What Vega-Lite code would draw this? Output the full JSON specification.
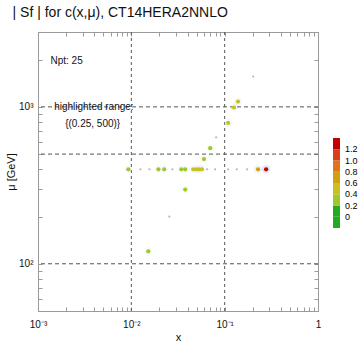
{
  "$schema": "https://vega.github.io/schema/vega-lite/v6.json",
  "width": 280,
  "height": 279,
  "autosize": {"type": "none"},
  "padding": {"left": 38, "top": 32, "right": 42, "bottom": 33},
  "background": "white",
  "title": {"text": "| Sf | for c(x,μ), CT14HERA2NNLO", "anchor": "start", "dx": 7, "offset": 7, "fontSize": 14, "font": "Liberation Sans", "fontWeight": "normal", "color": "#111111"},
  "config": {
    "view": {"stroke": "#9a9a9a", "strokeWidth": 1},
    "font": "Liberation Sans",
    "axis": {"grid": false, "domainColor": "#9a9a9a", "tickColor": "#9a9a9a", "tickSize": -4, "labelFontSize": 10, "labelColor": "#111111", "titleFontSize": 11, "titleFontWeight": "normal", "titleColor": "#111111", "labelFlush": false, "labelOverlap": false},
    "legend": {"gradientLength": 90, "gradientThickness": 7}
  },
  "datasets": {
    "pts": [
      {"x": 0.202, "mu": 1560, "s": 0.05},
      {"x": 0.139, "mu": 1080, "s": 0.5},
      {"x": 0.126, "mu": 990, "s": 0.5},
      {"x": 0.109, "mu": 790, "s": 0.45},
      {"x": 0.081, "mu": 640, "s": 0.05},
      {"x": 0.070, "mu": 545, "s": 0.35},
      {"x": 0.060, "mu": 465, "s": 0.35},
      {"x": 0.0093, "mu": 400, "s": 0.35},
      {"x": 0.0125, "mu": 400, "s": 0.05},
      {"x": 0.0156, "mu": 400, "s": 0.05},
      {"x": 0.0195, "mu": 400, "s": 0.3},
      {"x": 0.0225, "mu": 400, "s": 0.35},
      {"x": 0.0275, "mu": 400, "s": 0.05},
      {"x": 0.0343, "mu": 400, "s": 0.35},
      {"x": 0.0378, "mu": 400, "s": 0.3},
      {"x": 0.046, "mu": 400, "s": 0.4},
      {"x": 0.050, "mu": 400, "s": 0.4},
      {"x": 0.053, "mu": 400, "s": 0.4},
      {"x": 0.057, "mu": 400, "s": 0.4},
      {"x": 0.065, "mu": 400, "s": 0.05},
      {"x": 0.079, "mu": 400, "s": 0.05},
      {"x": 0.109, "mu": 400, "s": 0.05},
      {"x": 0.135, "mu": 400, "s": 0.05},
      {"x": 0.174, "mu": 400, "s": 0.05},
      {"x": 0.228, "mu": 400, "s": 0.7},
      {"x": 0.278, "mu": 400, "s": 1.25},
      {"x": 0.0378, "mu": 297, "s": 0.35},
      {"x": 0.0255, "mu": 200, "s": 0.05},
      {"x": 0.0152, "mu": 120, "s": 0.35}
    ],
    "gx": [{"gx": 0.01}, {"gx": 0.1}],
    "gy": [{"gy": 100}, {"gy": 500}, {"gy": 1000}],
    "notes": [{"t": "Npt: 25"}]
  },
  "layer": [
    {
      "data": {"name": "gx"},
      "mark": {"type": "rule", "color": "#555555", "strokeDash": [3, 3], "strokeWidth": 1},
      "encoding": {
        "x": {"field": "gx", "type": "quantitative", "scale": {"type": "log", "domain": [0.001, 1], "nice": false}, "axis": null}
      }
    },
    {
      "data": {"name": "gy"},
      "mark": {"type": "rule", "color": "#555555", "strokeDash": [4, 3], "strokeWidth": 1},
      "encoding": {
        "y": {"field": "gy", "type": "quantitative", "scale": {"type": "log", "domain": [50, 3000], "nice": false}, "axis": null}
      }
    },
    {
      "data": {"name": "pts"},
      "transform": [{"filter": "datum.s < 0.1"}],
      "mark": {"type": "circle", "size": 5, "color": "#b8b8b8", "opacity": 1},
      "encoding": {
        "x": {"field": "x", "type": "quantitative", "scale": {"type": "log", "domain": [0.001, 1], "nice": false},
          "axis": {"orient": "top", "labels": false, "title": null, "domain": false,
            "values": [0.001, 0.002, 0.003, 0.004, 0.005, 0.006, 0.007, 0.008, 0.009, 0.01, 0.02, 0.03, 0.04, 0.05, 0.06, 0.07, 0.08, 0.09, 0.1, 0.2, 0.3, 0.4, 0.5, 0.6, 0.7, 0.8, 0.9, 1]}},
        "y": {"field": "mu", "type": "quantitative", "scale": {"type": "log", "domain": [50, 3000], "nice": false},
          "axis": {"orient": "right", "labels": false, "title": null, "domain": false,
            "values": [50, 60, 70, 80, 90, 100, 200, 300, 400, 500, 600, 700, 800, 900, 1000, 2000, 3000]}}
      }
    },
    {
      "data": {"name": "pts"},
      "transform": [{"filter": "datum.s >= 0.1"}],
      "mark": {"type": "circle", "size": 70, "opacity": 0.12},
      "encoding": {
        "x": {"field": "x", "type": "quantitative", "scale": {"type": "log", "domain": [0.001, 1], "nice": false}, "axis": null},
        "y": {"field": "mu", "type": "quantitative", "scale": {"type": "log", "domain": [50, 3000], "nice": false}, "axis": null},
        "color": {"field": "s", "type": "quantitative", "legend": null}
      }
    },
    {
      "data": {"name": "pts"},
      "transform": [{"filter": "datum.s >= 0.1"}],
      "mark": {"type": "circle", "size": 18, "opacity": 1},
      "encoding": {
        "x": {"field": "x", "type": "quantitative", "scale": {"type": "log", "domain": [0.001, 1], "nice": false},
          "axis": {"orient": "bottom", "title": "x", "titlePadding": 2, "labelPadding": 12, "domain": false,
            "values": [0.001, 0.002, 0.003, 0.004, 0.005, 0.006, 0.007, 0.008, 0.009, 0.01, 0.02, 0.03, 0.04, 0.05, 0.06, 0.07, 0.08, 0.09, 0.1, 0.2, 0.3, 0.4, 0.5, 0.6, 0.7, 0.8, 0.9, 1],
            "labelExpr": "datum.value == 0.001 ? '10⁻³' : datum.value == 0.01 ? '10⁻²' : datum.value == 0.1 ? '10⁻¹' : datum.value == 1 ? '1' : ''"}},
        "y": {"field": "mu", "type": "quantitative", "scale": {"type": "log", "domain": [50, 3000], "nice": false},
          "axis": {"orient": "left", "title": "μ [GeV]", "titlePadding": 2, "labelPadding": 9, "domain": false,
            "values": [50, 60, 70, 80, 90, 100, 200, 300, 400, 500, 600, 700, 800, 900, 1000, 2000, 3000],
            "labelExpr": "datum.value == 100 ? '10²' : datum.value == 1000 ? '10³' : ''"}},
        "color": {"field": "s", "type": "quantitative",
          "scale": {"type": "threshold", "domain": [0, 0.2, 0.4, 0.6, 0.8, 1.0, 1.2],
            "range": ["#22aa22", "#22aa22", "#a0c828", "#c8c21e", "#d4a010", "#e07418", "#d8401a", "#c40000"]},
          "legend": {"type": "gradient", "orient": "none", "legendX": 295, "legendY": 106, "direction": "vertical", "gradientLength": 90, "gradientThickness": 7, "title": null, "labelFontSize": 9, "labelOffset": 5, "gradientStrokeWidth": 0, "labelOverlap": false,
            "labelExpr": "!isFinite(datum.value) ? '' : datum.value == 0 ? '0' : format(datum.value, '.1f')"}}
      }
    },
    {
      "data": {"name": "notes"},
      "mark": {"type": "text", "align": "left", "baseline": "middle", "fontSize": 10, "color": "#111111"},
      "encoding": {
        "x": {"datum": 0.00136, "type": "quantitative", "axis": null},
        "y": {"datum": 1960, "type": "quantitative", "axis": null},
        "text": {"field": "t"}
      }
    },
    {
      "data": {"values": [{"t": "highlighted range:"}]},
      "mark": {"type": "text", "align": "center", "baseline": "middle", "fontSize": 10, "color": "#111111"},
      "encoding": {
        "x": {"datum": 0.00397, "type": "quantitative", "axis": null},
        "y": {"datum": 1000, "type": "quantitative", "axis": null},
        "text": {"field": "t"}
      }
    },
    {
      "data": {"values": [{"t": "{(0.25, 500)}"}]},
      "mark": {"type": "text", "align": "center", "baseline": "middle", "fontSize": 10, "color": "#111111"},
      "encoding": {
        "x": {"datum": 0.00385, "type": "quantitative", "axis": null},
        "y": {"datum": 778, "type": "quantitative", "axis": null},
        "text": {"field": "t"}
      }
    }
  ]
}
